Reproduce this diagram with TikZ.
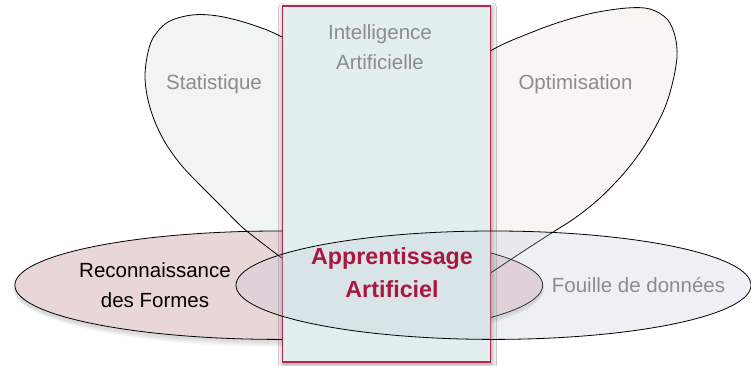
\documentclass[tikz,border=0pt]{standalone}
\usepackage{fontspec}
\setmainfont{Liberation Sans}
\usetikzlibrary{shadows.blur}
\definecolor{statfill}{HTML}{F0F5F4}
\definecolor{optfill}{HTML}{F8F5F3}
\definecolor{pinkfill}{HTML}{E9D7D8}
\definecolor{rectfill}{HTML}{E3EEEE}
\definecolor{crimson}{HTML}{B8284C}
\definecolor{aatext}{HTML}{A8183E}
\definecolor{greytext}{HTML}{8C8C8C}
\definecolor{fouillefill}{HTML}{BFC7DB}
\newcommand{\statpetal}{plot[smooth cycle, tension=0.55] coordinates {(386,328) (335,296) (290,264) (262,243) (242,227) (222,207) (202,187) (182,166) (166,144) (155,122) (148,100) (145,78) (147,57) (153,38) (168,22) (192,15) (218,16) (250,24) (282,37) (320,62) (360,130) (385,240)}}
\newcommand{\optpetal}{plot[smooth cycle, tension=0.55] coordinates {(386,338) (388,250) (405,160) (440,85) (492,50) (530,33) (560,22) (593,13) (627,8) (650,9) (667,19) (675,36) (677,57) (672,85) (663,112) (645,145) (625,172) (600,198) (575,218) (550,234) (513,258) (492,272) (440,306)}}
\begin{document}
\begin{tikzpicture}[x=1pt,y=-1pt,
  outline/.style={draw=black,line width=0.8pt},
  shadowlayer/.style={fill=black, fill opacity=0.022},
  greylabel/.style={font=\fontsize{20.5}{30}\selectfont, text=greytext, inner sep=0pt},
  blacklabel/.style={font=\fontsize{20.5}{29.5}\selectfont, text=black, inner sep=0pt},
  aalabel/.style={font=\fontsize{23.3}{33}\selectfont\bfseries, text=aatext, inner sep=0pt}]
\useasboundingbox (0,0) rectangle (751,366);
\fill[white] (0,0) rectangle (751,366);
% petal fills
\fill[statfill] \statpetal;
\fill[optfill] \optpetal;
% soft shadow under pink ellipse
\foreach \k in {0,1,2,3,4,5} {
  \fill[shadowlayer] (278.8,289) ellipse [x radius={263.9+0.4*\k}, y radius={53+\k}];
}
% pink ellipse fill
\fill[pinkfill] (278.8,285.2) ellipse [x radius=263.9, y radius=54.2];
% outlines
\draw[outline] \statpetal;
\draw[outline] \optpetal;
\draw[outline] (278.8,285.2) ellipse [x radius=263.9, y radius=54.2];
% central rectangle
\draw[draw=crimson, line width=1.1pt, fill=rectfill, blur shadow={shadow xshift=1pt, shadow yshift=-2pt, shadow blur radius=5pt, shadow blur steps=8, shadow opacity=45}] (282.3,6) rectangle (490.7,362);
% Fouille ellipse (transparent)
\fill[fouillefill, fill opacity=0.25] (493.5,285.2) ellipse [x radius=257.5, y radius=54.2];
\draw[outline] (493.5,285.2) ellipse [x radius=257.5, y radius=54.2];
% labels
\node[greylabel, anchor=base] (stat) at (214,89.5) {Statistique};
\node[greylabel, anchor=base] (opt) at (575.5,90) {Optimisation};
\node[greylabel, align=center] (ia) at (380,47) {Intelligence\\Artificielle};
\node[blacklabel, align=center] (rf) at (155,285) {Reconnaissance\\des Formes};
\node[greylabel, anchor=base] (fd) at (638.5,292.5) {Fouille de données};
\node[aalabel, align=center] (aa) at (392,273) {Apprentissage\\Artificiel};
\end{tikzpicture}
\end{document}
